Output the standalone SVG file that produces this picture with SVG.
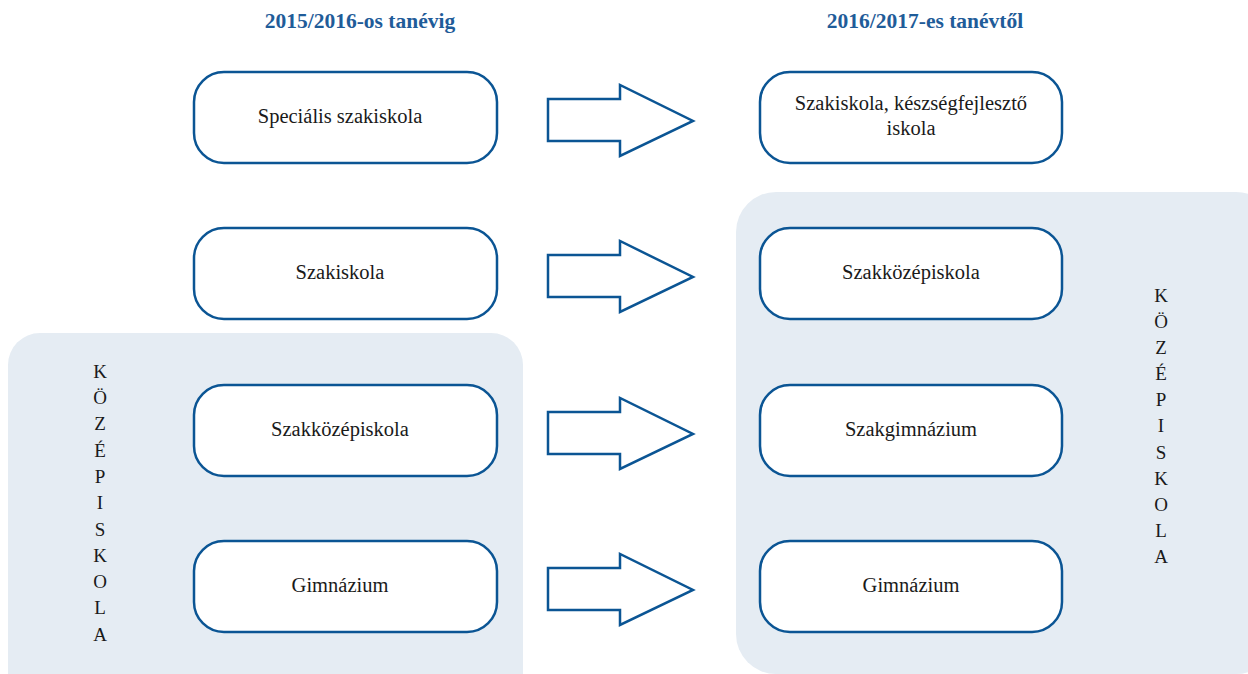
<svg xmlns="http://www.w3.org/2000/svg" width="1248" height="674" viewBox="0 0 1248 674" font-family="'Liberation Serif', 'Times New Roman', serif">
<style>
.panel{fill:#e5ecf3;stroke:none}
.node rect{fill:#fff;stroke:#0b5594;stroke-width:2.5}
.arrow{fill:#fff;stroke:#0b5594;stroke-width:2.5;stroke-linejoin:miter}
text{font-family:'Liberation Serif','Times New Roman',serif;fill:#1a1a1a}
.lbl{font-size:20.5px;text-anchor:middle}
.title{font-size:21.5px;font-weight:bold;fill:#1f5c99;text-anchor:middle}
.vert{font-size:19px;text-anchor:middle}
</style>
<g id="panels">
<rect class="panel" x="8" y="333" width="515" height="372" rx="32"/>
<rect class="panel" x="736" y="192" width="540" height="482" rx="40"/>
</g>
<g id="titles">
<text class="title" x="360" y="28">2015/2016-os tanévig</text>
<text class="title" x="925" y="28">2016/2017-es tanévtől</text>
</g>
<g id="vertical-left">
<text class="vert" x="100" y="378">K</text>
<text class="vert" x="100" y="404">Ö</text>
<text class="vert" x="100" y="430">Z</text>
<text class="vert" x="100" y="457">É</text>
<text class="vert" x="100" y="483">P</text>
<text class="vert" x="100" y="509">I</text>
<text class="vert" x="100" y="536">S</text>
<text class="vert" x="100" y="562">K</text>
<text class="vert" x="100" y="588">O</text>
<text class="vert" x="100" y="614">L</text>
<text class="vert" x="100" y="641">A</text>
</g>
<g id="vertical-right">
<text class="vert" x="1161" y="302">K</text>
<text class="vert" x="1161" y="328">Ö</text>
<text class="vert" x="1161" y="354">Z</text>
<text class="vert" x="1161" y="380">É</text>
<text class="vert" x="1161" y="406">P</text>
<text class="vert" x="1161" y="432">I</text>
<text class="vert" x="1161" y="459">S</text>
<text class="vert" x="1161" y="485">K</text>
<text class="vert" x="1161" y="511">O</text>
<text class="vert" x="1161" y="537">L</text>
<text class="vert" x="1161" y="563">A</text>
</g>
<g id="node-l1" class="node"><rect x="194" y="72" width="303" height="91" rx="30"/><text class="lbl" x="340" y="123">Speciális szakiskola</text></g>
<g id="node-l2" class="node"><rect x="194" y="228" width="303" height="91" rx="30"/><text class="lbl" x="340" y="279">Szakiskola</text></g>
<g id="node-l3" class="node"><rect x="194" y="385" width="303" height="91" rx="30"/><text class="lbl" x="340" y="436">Szakközépiskola</text></g>
<g id="node-l4" class="node"><rect x="194" y="541" width="303" height="91" rx="30"/><text class="lbl" x="340" y="592">Gimnázium</text></g>
<g id="node-r1" class="node"><rect x="760" y="72" width="302" height="91" rx="30"/><text class="lbl" x="911" y="110">Szakiskola, készségfejlesztő</text><text class="lbl" x="911" y="135">iskola</text></g>
<g id="node-r2" class="node"><rect x="760" y="228" width="302" height="91" rx="30"/><text class="lbl" x="911" y="279">Szakközépiskola</text></g>
<g id="node-r3" class="node"><rect x="760" y="385" width="302" height="91" rx="30"/><text class="lbl" x="911" y="436">Szakgimnázium</text></g>
<g id="node-r4" class="node"><rect x="760" y="541" width="302" height="91" rx="30"/><text class="lbl" x="911" y="592">Gimnázium</text></g>
<g id="connectors">
<path class="arrow" d="M548,99 H620 V85 L693,121 L620,156 V141 H548 Z"/>
<path class="arrow" d="M548,255 H620 V241 L693,277 L620,312 V297 H548 Z"/>
<path class="arrow" d="M548,412 H620 V398 L693,434 L620,469 V454 H548 Z"/>
<path class="arrow" d="M548,568 H620 V554 L693,590 L620,625 V610 H548 Z"/>
</g>
</svg>
